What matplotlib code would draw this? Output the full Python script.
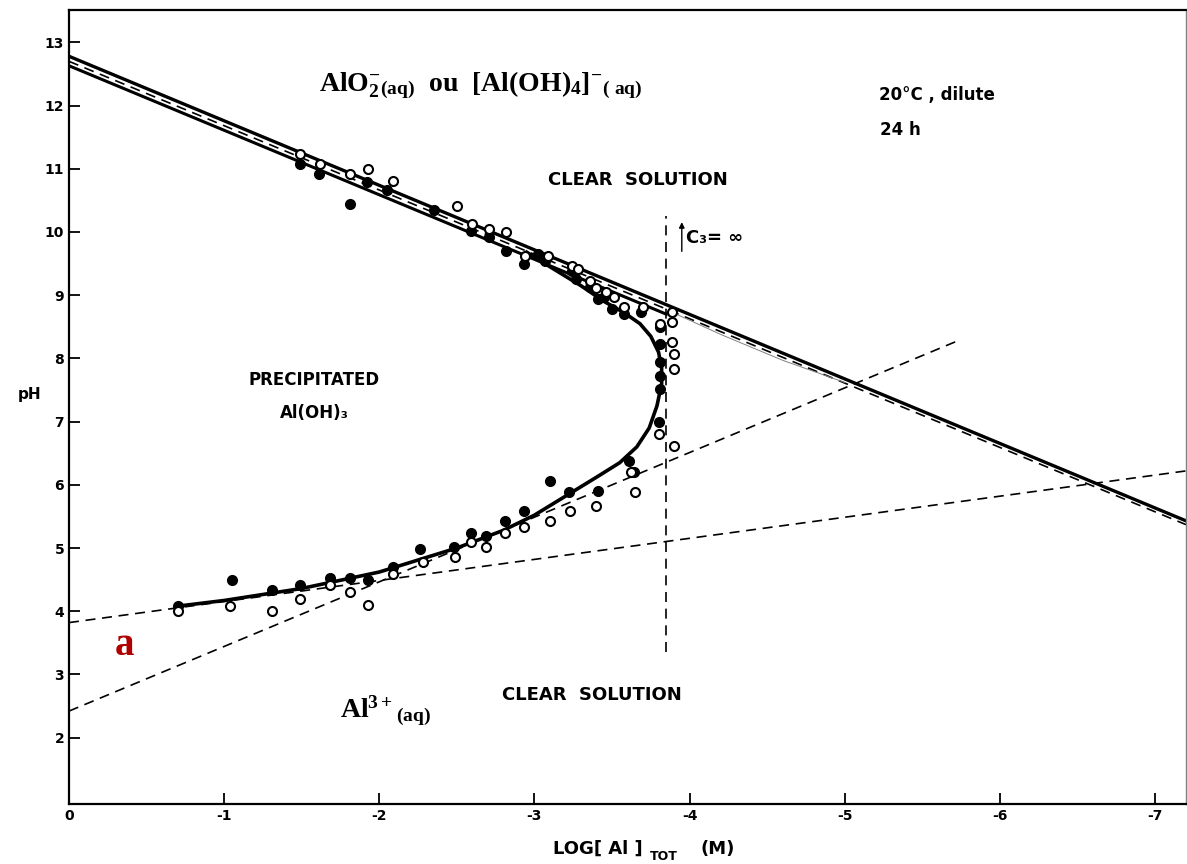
import matplotlib
matplotlib.use('Agg')
import matplotlib.pyplot as plt

plt.rcParams['font.family'] = ['DejaVu Sans']
plt.rcParams['axes.unicode_minus'] = False
plt.rcParams['mathtext.fontset'] = 'custom'
plt.rcParams['mathtext.rm'] = 'Liberation Serif:bold'
plt.rcParams['mathtext.it'] = 'Liberation Serif:bold'
plt.rcParams['mathtext.bf'] = 'Liberation Serif:bold'
plt.rcParams['mathtext.default'] = 'rm'

# 实心点 (上支 / 下支)
filled_up_x = [-1.49, -1.61, -1.81, -1.92, -2.05, -2.35, -2.59, -2.71, -2.82, -2.93, -3.02, -3.07, -3.24, -3.27,
               -3.36, -3.41, -3.45, -3.50, -3.58, -3.69, -3.81, -3.81, -3.81, -3.81, -3.81, -3.80, -3.61, -3.64]
filled_up_y = [11.07, 10.91, 10.44, 10.79, 10.66, 10.34, 10.01, 9.92, 9.70, 9.49, 9.65, 9.54, 9.38, 9.25,
               9.13, 8.94, 8.97, 8.78, 8.70, 8.73, 8.50, 8.23, 7.94, 7.72, 7.52, 7.00, 6.38, 6.20]
filled_lo_x = [-0.70, -1.05, -1.31, -1.49, -1.68, -1.81, -1.93, -2.09, -2.26, -2.48, -2.59, -2.69, -2.81,
               -2.93, -3.10, -3.22, -3.41]
filled_lo_y = [4.08, 4.49, 4.33, 4.41, 4.52, 4.52, 4.49, 4.70, 4.98, 5.01, 5.24, 5.19, 5.42,
               5.58, 6.06, 5.89, 5.90]
# 空心点
open_up_x = [-1.49, -1.62, -1.81, -1.93, -2.09, -2.50, -2.60, -2.71, -2.82, -2.94, -3.09, -3.24, -3.28, -3.36,
             -3.40, -3.46, -3.51, -3.58, -3.70, -3.89, -3.81, -3.89, -3.89, -3.90, -3.90, -3.80, -3.90, -3.62]
open_up_y = [11.23, 11.08, 10.91, 11.00, 10.80, 10.41, 10.12, 10.04, 10.00, 9.62, 9.62, 9.46, 9.41, 9.22,
             9.12, 9.05, 8.97, 8.81, 8.81, 8.74, 8.54, 8.57, 8.26, 8.07, 7.84, 6.81, 6.62, 6.20]
open_lo_x = [-0.70, -1.04, -1.31, -1.49, -1.68, -1.81, -1.93, -2.09, -2.28, -2.49, -2.59, -2.69, -2.81,
             -2.93, -3.10, -3.23, -3.40, -3.65]
open_lo_y = [4.00, 4.09, 4.00, 4.20, 4.41, 4.31, 4.10, 4.59, 4.78, 4.86, 5.10, 5.02, 5.24,
             5.33, 5.43, 5.59, 5.67, 5.89]

# 沉淀边界曲线
curve_x = [-0.70, -1.00, -1.50, -2.00, -2.50, -2.80, -3.00, -3.20, -3.40, -3.55, -3.66, -3.74, -3.79,
           -3.82, -3.82, -3.80, -3.75, -3.68, -3.58, -3.45, -3.30, -3.10, -2.95]
curve_y = [4.08, 4.17, 4.36, 4.62, 5.00, 5.28, 5.52, 5.82, 6.12, 6.35, 6.60, 6.90, 7.25,
           7.60, 7.85, 8.10, 8.35, 8.55, 8.72, 8.90, 9.15, 9.45, 9.68]
thin_x = [-3.87, -4.20, -4.60, -5.00]
thin_y = [8.75, 8.38, 7.97, 7.62]

# 直线端点
main_x = [0, -7.2]
main_y = [12.78, 5.43]
dash_top_x = [0, -7.2]
dash_top_y = [12.70, 5.37]
band_lo_x = [0, -3.85]
band_lo_y = [12.63, 8.70]
steep_x = [0, -5.75]
steep_y = [2.42, 8.30]
shallow_x = [0, -7.2]
shallow_y = [3.82, 6.22]
vert_x = [-3.85, -3.85]
vert_y = [3.35, 10.25]

xticks = [0, -1, -2, -3, -4, -5, -6, -7]
yticks = list(range(2, 14))

fig = plt.figure(figsize=(11.87, 8.64), dpi=100)
ax = fig.add_axes([69/1187, 60/864, (1186-69)/1187, (804-9.5)/864])
ax.set_xlim(0, -7.2)
ax.set_ylim(0.95, 13.52)

dash = (0, (6, 4))
ax.plot(main_x, main_y, color='black', lw=2.4)
ax.plot(dash_top_x, dash_top_y, color='black', lw=1.2, linestyle=dash)
ax.plot(band_lo_x, band_lo_y, color='black', lw=2.2)
ax.plot(steep_x, steep_y, color='black', lw=1.2, linestyle=dash)
ax.plot(shallow_x, shallow_y, color='black', lw=1.2, linestyle=dash)
ax.plot(vert_x, vert_y, color='black', lw=1.2, linestyle=dash)
ax.plot(curve_x, curve_y, color='black', lw=2.6, solid_joinstyle='round')
ax.plot(thin_x, thin_y, color='gray', lw=0.7)

ax.plot(filled_up_x, filled_up_y, 'o', color='black', ms=7, zorder=5)
ax.plot(filled_lo_x, filled_lo_y, 'o', color='black', ms=7, zorder=5)
ax.plot(open_up_x, open_up_y, 'o', mfc='white', mec='black', mew=1.5, ms=6.5, zorder=6)
ax.plot(open_lo_x, open_lo_y, 'o', mfc='white', mec='black', mew=1.5, ms=6.5, zorder=6)

# 坐标轴
ax.set_xticks(xticks)
ax.set_xticklabels([str(t) for t in xticks], fontweight='bold')
ax.set_yticks(yticks)
ax.set_yticklabels([str(t) for t in yticks], fontweight='bold')
ax.tick_params(direction='in', length=8, width=1.3, labelsize=10)
for s in ['left', 'bottom', 'top']:
    ax.spines[s].set_linewidth(1.6)
ax.spines['right'].set_color('gray')
ax.spines['right'].set_linewidth(1.0)

fig.text(30/1187, 1-395/864, 'pH', fontsize=11, fontweight='bold', ha='center', va='center')
fig.text(553/1187, 1-849/864, 'LOG[ Al ]', fontsize=13, fontweight='bold', ha='left', va='center')
fig.text(650/1187, 1-856/864, 'TOT', fontsize=9, fontweight='bold', ha='left', va='center')
fig.text(700/1187, 1-849/864, '(M)', fontsize=13, fontweight='bold', ha='left', va='center')

# 注释文字
ax.text(-1.61, 12.33, r'$AlO_2^{-}{}_{(aq)}$  ou  $[Al(OH)_4]^{-}{}_{(\ aq)}$', fontsize=20,
        family='Liberation Serif', fontweight='bold', ha='left', va='center')
ax.text(-1.75, 2.42, r'$Al^{3+}{}_{(aq)}$', fontsize=20, ha='left', va='center')
ax.text(-0.36, 3.45, 'a', fontsize=28, family='Liberation Serif', fontweight='bold', color='#b00000',
        ha='center', va='center')
ax.text(-3.67, 10.82, 'CLEAR  SOLUTION', fontsize=13, fontweight='bold', ha='center', va='center')
ax.text(-3.37, 2.68, 'CLEAR  SOLUTION', fontsize=13, fontweight='bold', ha='center', va='center')
ax.text(-1.58, 7.66, 'PRECIPITATED', fontsize=12, fontweight='bold', ha='center', va='center')
ax.text(-1.58, 7.14, 'Al(OH)₃', fontsize=12, fontweight='bold', ha='center', va='center')
ax.text(-5.22, 12.16, '20°C , dilute', fontsize=12, fontweight='bold', ha='left', va='center')
ax.text(-5.23, 11.62, '24 h', fontsize=12, fontweight='bold', ha='left', va='center')
ax.annotate('', xy=(-3.95, 10.2), xytext=(-3.95, 9.65),
            arrowprops=dict(arrowstyle='-|>', color='black', lw=1.0, mutation_scale=8))
ax.text(-3.98, 9.9, 'C₃= ∞', fontsize=13, fontweight='bold', ha='left', va='center')

fig.savefig('out.png', dpi=100)
